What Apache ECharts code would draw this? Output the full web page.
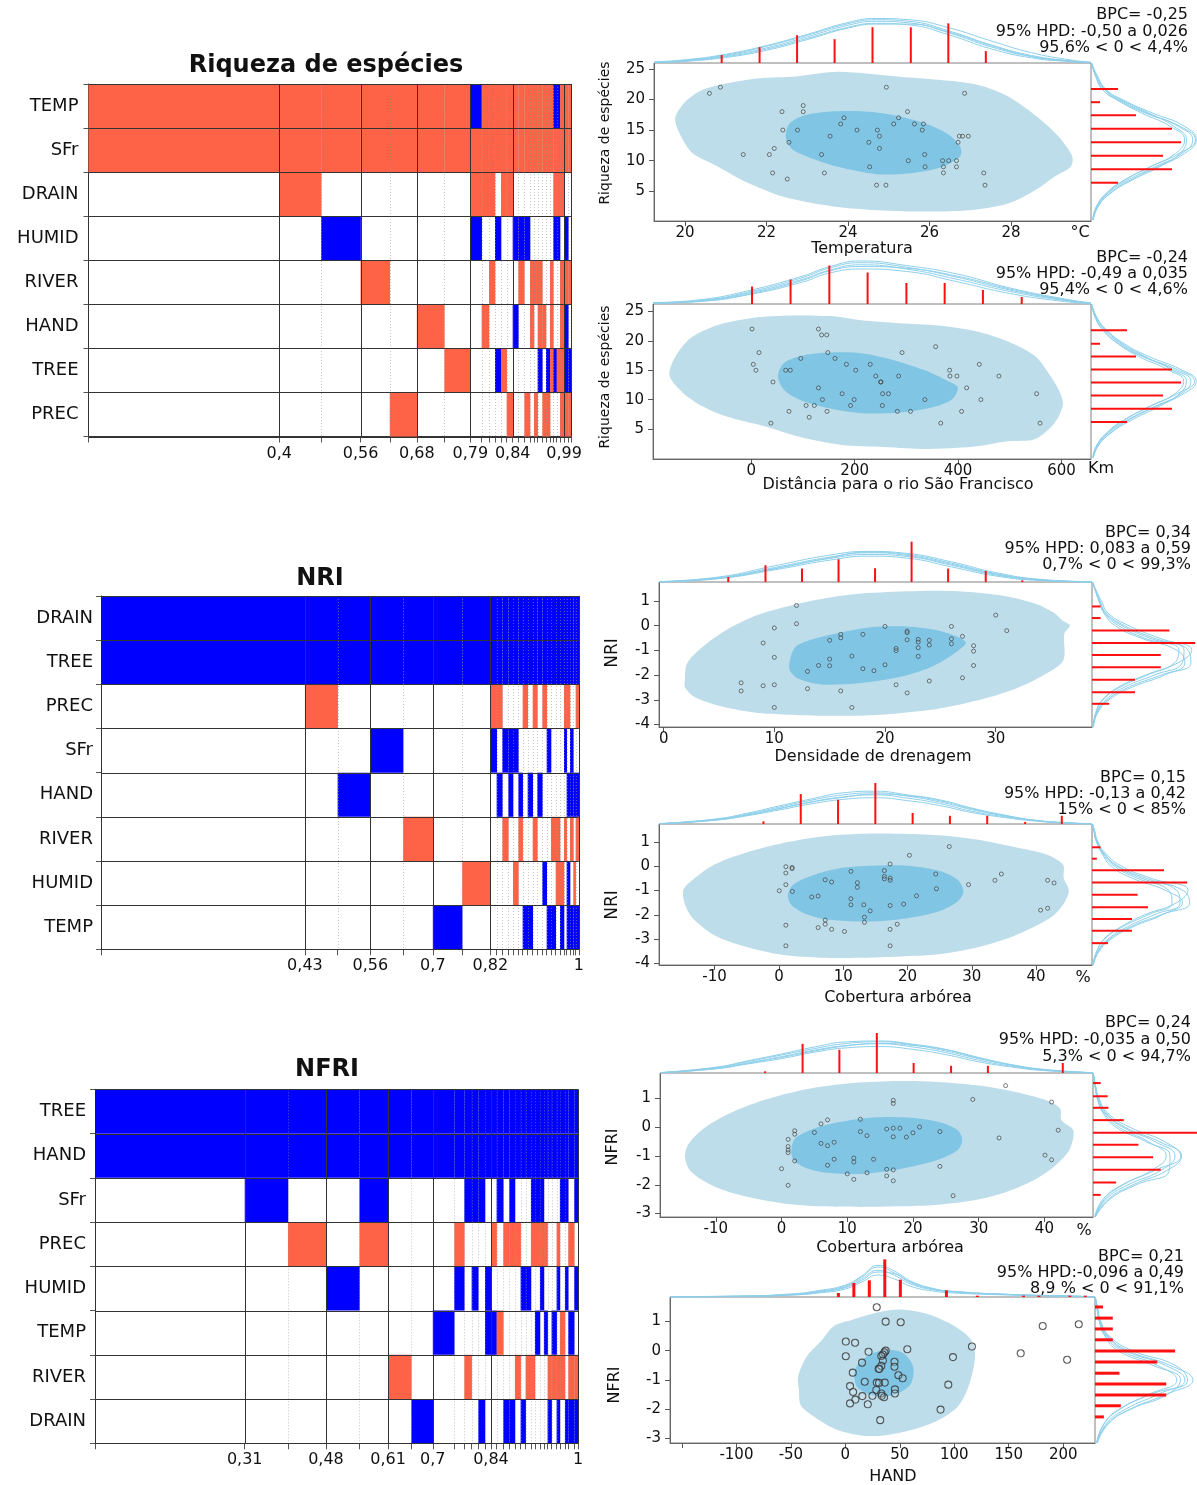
<!DOCTYPE html>
<html><head><meta charset="utf-8">
<script src="https://cdn.jsdelivr.net/npm/echarts@6/dist/echarts.min.js"></script>
<style>html,body{margin:0;padding:0;background:#fff}#c{width:1197px;height:1485px}</style>
</head><body><div id="c"></div><script>
// ================= DATA =================
// --- BMA image plots (cumulative posterior model probability; sign per variable: + / - / 0) ---
const riqTitle = 'Riqueza de espécies';
const riqVars = ['TEMP','SFr','DRAIN','HUMID','RIVER','HAND','TREE','PREC'];
const riqCum = [0.395,0.482,0.5635,0.624,0.680,0.737,0.791,0.8143,0.8295,0.8420,0.8544,0.8661,0.8786,0.8903,0.9027,0.9145,0.9227,0.9303,0.9400,0.9476,0.9559,0.9628,0.9697,0.9766,0.9849,0.9938,1.0];
const riqModels = ['++000000','+++00000','++0-0000','++00+000','++00000+','++000+00','++0000+0','-++-0000','+++00+00','+++0+000','++0-00-0','+++000+0','+++0000+','++0-0-00','++0-+000','++0-000+','++00++00','++00+00+','++00++-0','++000+0+','++0000-+','++00+++0','-++-00-0','-++-00+0','+++0++++','++0-+--+','++00+0-+'];
const riqTickAt = [0,2,4,6,12,24];
const riqTickLabels = ['0,4','0,56','0,68','0,79','0,84','0,99'];

const nriTitle = 'NRI';
const nriVars = ['DRAIN','TREE','PREC','SFr','HAND','RIVER','HUMID','TEMP'];
const nriCum = [0.4268,0.4953,0.5638,0.6323,0.6945,0.7559,0.8150,0.8281,0.8400,0.8525,0.8623,0.8735,0.8825,0.8930,0.9035,0.9132,0.9237,0.9328,0.9418,0.9516,0.9607,0.9690,0.9746,0.9816,0.9885,0.9934,1.0];
const nriModels = ['--000000','--+00000','--00-000','--0-0000','--000+00','--00000-','--0000+0','--+-0000','--+0-000','--0-0+00','--0--000','--0-00+0','--00-+00','--+0000-','--00-00-','--+00+00','--00-000','--+000-0','--0-000-','--000+0-','--000++0','--0000+-','--+-0+00','--+0-0--','--0--+0-','--00-0+-','--+0-+0-'];
const nriTickAt = [0,2,4,6,26];
const nriTickLabels = ['0,43','0,56','0,7','0,82','1'];

const nfriTitle = 'NFRI';
const nfriVars = ['TREE','HAND','SFr','PREC','HUMID','TEMP','RIVER','DRAIN'];
const nfriCum = [0.310,0.3995,0.4782,0.5475,0.6067,0.655,0.6994,0.7438,0.7646,0.7798,0.7936,0.8074,0.8198,0.8315,0.8453,0.8577,0.8694,0.8812,0.8915,0.9025,0.9108,0.9212,0.9294,0.9370,0.9453,0.9557,0.9625,0.9729,0.9798,0.9922,1.0];
const nfriModels = ['--000000','---00000','--0+0000','--00-000','---+0000','--0000+0','--00000-','--000-00','--0+-000','---000+0','---0-000','---0000-','--00--00','--0+0-00','---00+00','--0+000-','---+000-','--0+00+0','--00-00-','--00-0+0','---+00+0','---+0-00','---+-000','--0+0-00','--0000+-','--000-+0','--0+-0+-','---00++0','---0-00-','--0+0-+-','---0-0+-'];
const nfriTickAt = [0,2,4,6,12,30];
const nfriTickLabels = ['0,31','0,48','0,61','0,7','0,84','1'];

// --- Panel 1: Temperatura vs Riqueza ---
const p1XRange = [19.24, 29.96], p1YRange = [0.15, 25.95];
const p1XTicks = [20,22,24,26,28], p1YTicks = [5,10,15,20,25];
const p1Pts = [[20.6,21],[20.87,22],[21.43,11],[22.07,11],[22.19,12],[22.15,8],[22.51,7],[22.38,18],[22.4,15],[22.55,13],[22.76,15],[22.9,18],[22.9,19],[23.35,11],[23.42,8],[23.56,14],[23.82,16],[23.9,17],[24.22,15],[24.51,13],[24.53,9],[24.72,15],[24.77,14],[24.77,12],[24.7,6],[24.93,6],[24.94,22],[25.12,16],[25.24,17],[25.46,18],[25.48,10],[25.63,16],[25.82,15],[25.85,16],[25.88,11],[25.89,9],[26.32,10],[26.34,9],[26.34,8],[26.47,10],[26.66,10],[26.66,9],[26.7,13],[26.73,14],[26.81,14],[26.95,14],[26.86,21],[27.33,8],[27.36,6]];
const p1Outer = [[19.76,16.9],[20.05,19.9],[20.52,21.8],[21.76,23.4],[22.61,23.7],[23.66,24.5],[24.51,24.2],[25.27,23.7],[26.22,23.2],[27.17,22.4],[27.93,20.5],[28.69,16.9],[29.17,13.9],[29.5,10.7],[29.46,9.0],[29.07,7.4],[28.6,5.2],[27.93,3.0],[26.98,1.9],[25.75,1.7],[24.61,1.95],[23.56,2.6],[22.42,4.1],[21.47,6.6],[20.81,9.0],[20.19,11.2],[19.95,13.4]];
const p1Inner = [[22.47,13.9],[22.57,16.1],[22.99,17.5],[23.85,18.1],[24.8,17.8],[25.75,16.4],[26.41,14.5],[26.75,12.3],[26.75,10.7],[26.22,8.8],[25.46,7.9],[24.7,7.8],[23.75,9.0],[22.99,10.7],[22.61,12.0]];
const p1TopX = [20.9,21.83,22.75,23.67,24.6,25.54,26.46,27.38];
const p1TopV = [2,4,7,6,9,9,10,3];
const p1TopCurveX = [19.24,20,21,22,23,24,24.7,25.5,26.5,27.5,28.5,29.5,29.96];
const p1TopCurves = [
 [0.1,0.5,1.6,3.5,6.2,9.0,10.0,9.6,7.0,3.6,1.3,0.3,0.1],
 [0.2,0.6,1.8,3.8,6.6,9.5,10.5,10.1,7.5,4.1,1.6,0.4,0.1],
 [0.2,0.7,2.0,4.2,7.0,9.9,10.9,10.5,8.0,4.6,1.9,0.5,0.2],
 [0.3,0.8,2.2,4.4,7.2,10.2,11.2,10.9,8.8,5.6,2.6,0.7,0.2],
 [0.1,0.4,1.4,3.2,5.9,8.8,9.8,9.8,7.7,4.4,1.7,0.4,0.1]];
const p1RightY = [21.7,19.55,17.4,15.2,13.0,10.8,8.6,6.4];
const p1RightV = [3,1,5,9,10,8,9,3];
const p1RightCurveY = [25.95,24,21.6,19.9,17.8,15.6,13.4,11.2,9.0,6.85,4.7,2.5,0.3];
const p1RightCurves = [
 [0.05,0.5,1.3,2.9,5.6,8.8,10.4,9.4,6.6,3.7,1.7,0.6,0.2],
 [0.06,0.56,1.5,3.2,6.2,9.7,11.3,10.1,7.1,4.1,1.9,0.67,0.22],
 [0.08,0.65,1.7,3.6,6.8,10.4,11.7,10.4,7.4,4.4,2.1,0.75,0.25],
 [0.05,0.45,1.3,3.0,6.0,9.9,11.6,9.8,6.6,3.8,1.8,0.6,0.2],
 [0.07,0.6,1.6,3.4,6.4,9.2,10.6,9.9,7.6,4.6,2.2,0.8,0.25]];
const p1Texts = {x:'Temperatura', y:'Riqueza de espécies', unit:'°C', notes:['BPC= -0,25','95% HPD: -0,50 a 0,026','95,6% < 0 < 4,4%']};

// --- Panel 2: Distância para o rio São Francisco vs Riqueza ---
const p2XRange = [-190, 657], p2YRange = [-0.1, 26.26];
const p2XTicks = [0,200,400,600], p2YTicks = [5,10,15,20,25];
const p2Pts = [[1.5,22],[4,16],[9,15],[15,18],[42,13],[38,6],[66.5,15],[75.5,15],[73,8],[95.7,17],[106,9],[112,7],[122,9],[130,22],[130,12],[136,21],[146,21],[137.6,10],[148,18],[146.5,8],[162,17],[175.7,11],[184,16],[192,9],[199,10],[202,15],[230,16],[240.8,14],[251,13],[250,13],[254,11],[253.5,9],[265.4,11],[282.6,8],[285,14],[291.6,18],[308,8],[335.7,10],[356.6,19],[366.4,6],[383.6,15],[384.3,14],[397.8,14],[406.7,8],[416.5,12],[441,16],[444,10],[479,14],[551.8,11],[558.5,6]];
const p2Outer = [[-157.8,14],[-150,16.8],[-116.6,20.5],[-64.3,22.7],[3,23.9],[77.8,24.3],[152.5,24.2],[212.3,23.5],[287,23],[362,22.6],[436.7,21.6],[496.5,19.9],[548.8,17.4],[578.7,14],[597.4,11.1],[602.6,9.1],[586.2,6.0],[548.8,3.3],[496.5,2.9],[436.7,2.05],[399.3,1.8],[339.5,1.6],[257.2,1.95],[175,2.3],[100,3.5],[25.4,5.45],[-49.3,7.15],[-94.2,8.85],[-131.6,11.1]];
const p2Inner = [[51.6,14],[62.8,16.2],[100.2,17.5],[152.5,18.0],[212.3,17.9],[272.2,16.8],[332,15.1],[376.8,13.3],[399.3,12.1],[388,10],[347,8.6],[287,7.8],[212.3,7.7],[145,8.6],[92.7,10],[62.8,11.7]];
const p2TopX = [1.5,76,151,225,300,374,448,523];
const p2TopV = [5,7,11,9,6,6,4,2];
const p2TopCurveX = [-190,-100,0,100,150,212,300,400,500,600,657];
const p2TopCurves = [
 [0.2,0.7,2.8,6.3,8.8,10.0,9.3,6.3,3.0,0.8,0.1],
 [0.3,0.9,3.3,7.1,9.6,11.2,10.0,7.0,3.6,1.1,0.2],
 [0.35,1.0,3.6,7.6,10.2,11.8,10.5,7.6,4.0,1.3,0.25],
 [0.4,1.2,4.0,8.0,10.6,12.3,11.0,8.5,4.6,1.6,0.3],
 [0.25,0.8,3.0,6.8,9.4,10.7,10.2,7.9,4.3,1.4,0.2]];
const p2RightY = [21.8,19.5,17.35,15.1,12.9,10.7,8.45,6.2];
const p2RightV = [4,1,5,9,10,8,9,4];
const p2RightCurveY = [26.25,24,21.9,19.6,17.35,15.1,13.1,11.1,8.85,6.6,4.3,2.1,0.1];
const p2RightCurves = [
 [0.05,0.5,1.3,2.9,5.3,8.5,10.3,9.4,6.6,3.7,1.7,0.6,0.2],
 [0.06,0.56,1.5,3.2,5.8,9.2,11.1,10.1,7.1,4.1,1.9,0.67,0.22],
 [0.08,0.65,1.7,3.6,6.4,10.0,11.7,10.4,7.3,4.3,2.1,0.75,0.25],
 [0.05,0.45,1.3,3.0,5.7,9.6,11.5,9.7,6.5,3.8,1.8,0.6,0.2],
 [0.07,0.6,1.6,3.4,6.0,8.9,10.6,9.9,7.6,4.6,2.2,0.8,0.25]];
const p2Texts = {x:'Distância para o rio São Francisco', y:'Riqueza de espécies', unit:'Km', notes:['BPC= -0,24','95% HPD: -0,49 a 0,035','95,4% < 0 < 4,6%']};

// --- Panel 3: Densidade de drenagem vs NRI ---
const p3XRange = [-0.42, 38.7], p3YRange = [-4.1, 1.77];
const p3XTicks = [0,10,20,30], p3YTicks = [-4,-3,-2,-1,0,1];
const p3Pts = [[12.0,0.82],[10.0,-0.09],[12.0,0.08],[8.99,-0.70],[10.0,-1.28],[7.0,-2.31],[7.0,-2.64],[8.99,-2.43],[10.0,-2.39],[10.0,-3.31],[13.0,-1.85],[13.0,-2.55],[14.0,-1.61],[15.0,-0.59],[15.0,-1.35],[15.0,-1.62],[16.0,-0.35],[16.0,-0.49],[16.0,-2.64],[17.0,-1.23],[17.0,-3.31],[18.0,-0.35],[18.0,-1.74],[19.0,-1.82],[20.0,-0.03],[20.0,-1.58],[21.0,-0.92],[21.0,-1.01],[21.0,-2.39],[22.0,-0.22],[22.0,-0.28],[22.0,-0.57],[22.0,-2.72],[23.0,-0.55],[23.0,-0.66],[23.0,-0.89],[23.0,-1.24],[24.0,-0.59],[24.0,-0.78],[24.0,-2.24],[26.0,-0.03],[26.0,-0.53],[26.0,-0.73],[27.0,-0.43],[27.0,-2.11],[28.0,-0.81],[28.0,-1.03],[28.0,-1.61],[30.0,0.43],[31.0,-0.2]];
const p3Outer = [[1.92,-2.22],[2.1,-1.54],[3.5,-0.86],[5.6,-0.19],[8.4,0.42],[11.5,0.82],[15.0,1.14],[18.5,1.32],[23.1,1.41],[26.9,1.39],[30.4,1.23],[33.6,0.89],[35.3,0.51],[36.0,0.22],[36.7,0.01],[36.2,-0.32],[36.1,-1.41],[34.3,-2.01],[31.8,-2.55],[28.3,-3.03],[24.8,-3.36],[21.3,-3.54],[17.8,-3.64],[14.3,-3.64],[10.8,-3.59],[8.0,-3.5],[4.9,-3.23],[2.8,-2.89],[1.92,-2.49]];
const p3Inner = [[11.4,-1.41],[11.9,-0.86],[13.6,-0.53],[16.1,-0.26],[18.9,-0.05],[22.0,-0.03],[24.8,-0.19],[26.6,-0.46],[27.3,-0.70],[26.2,-1.14],[24.1,-1.68],[21.3,-2.08],[17.8,-2.32],[14.3,-2.38],[12.2,-2.15],[11.4,-1.81]];
const p3TopX = [5.84,9.2,12.5,15.8,19.1,22.4,25.7,29.1,32.4];
const p3TopV = [1.5,5,4,6.75,4.1,12,4,3.3,0.5];
const p3TopCurveX = [-0.42,5,10,15,18.5,22,26,30,34,38.7];
const p3TopCurves = [
 [0.06,1.0,3.6,6.5,7.7,7.1,4.5,1.8,0.45,0.03],
 [0.08,1.2,4.0,7.0,8.2,7.6,5.0,2.1,0.55,0.05],
 [0.1,1.3,4.3,7.4,8.7,7.9,5.3,2.3,0.6,0.05],
 [0.12,1.5,4.8,8.0,9.1,8.5,6.0,2.8,0.8,0.1],
 [0.08,1.1,3.9,7.2,8.9,8.2,5.6,2.5,0.7,0.06]];
const p3RightY = [0.78,0.31,-0.19,-0.70,-1.19,-1.68,-2.19,-2.69,-3.16];
const p3RightV = [1,1,9,12,8,8,5,5,2];
const p3RightCurveY = [1.77,1.5,1.0,0.5,0,-0.5,-1.0,-1.5,-2.0,-2.5,-3.0,-3.5,-4.1];
const p3RightCurves = [
 [0.05,0.3,0.8,1.4,2.7,5.7,9.9,10.8,8.4,4.6,2.0,0.7,0.15],
 [0.06,0.35,0.93,1.6,3.5,6.7,10.7,10.5,7.2,3.7,1.6,0.58,0.12],
 [0.07,0.4,1.1,1.9,4.3,7.8,11.6,10.0,6.2,3.0,1.2,0.45,0.1],
 [0.06,0.33,0.9,1.7,3.8,7.2,11.2,11.5,8.0,4.2,1.8,0.62,0.13],
 [0.05,0.32,0.85,1.5,3.1,6.1,10.1,9.6,6.4,3.2,1.3,0.5,0.1]];
const p3Texts = {x:'Densidade de drenagem', y:'NRI', unit:'', notes:['BPC= 0,34','95% HPD: 0,083 a 0,59','0,7% < 0 < 99,3%']};

// --- Panel 4: Cobertura arbórea vs NRI ---
const p4XRange = [-18.65, 48.7], p4YRange = [-4.07, 1.74];
const p4XTicks = [-10,0,10,20,30,40], p4YTicks = [-4,-3,-2,-1,0,1];
const p4Pts = [[26.5,0.81],[20.3,0.45],[17.3,0.09],[1.08,-0.02],[2.05,-0.05],[2.05,-0.1],[1.08,-0.28],[11.2,-0.21],[16.4,-0.18],[16.4,-0.42],[16.4,-0.52],[17.3,-0.49],[17.3,-0.58],[7.2,-0.56],[8.2,-0.65],[12.2,-0.68],[12.2,-0.87],[24.4,-0.32],[24.5,-0.93],[29.5,-0.76],[33.6,-0.58],[34.6,-0.32],[41.8,-0.58],[42.8,-0.69],[0.06,-1.01],[1.08,-0.76],[2.1,-1.04],[5.1,-1.27],[6.1,-1.23],[11.2,-1.34],[11.2,-1.59],[13.2,-1.59],[14.2,-1.84],[17.3,-1.62],[19.4,-1.56],[21.4,-1.22],[13.3,-2.1],[13.3,-2.31],[7.2,-2.22],[7.2,-2.39],[1.08,-2.43],[6.1,-2.53],[8.2,-2.6],[10.2,-2.69],[17.3,-2.6],[18.4,-2.39],[1.08,-3.28],[17.3,-3.28],[40.7,-1.81],[41.8,-1.73]];
const p4Outer = [[-14.9,-1.01],[-14.0,-0.69],[-10.1,0.06],[-5.3,0.55],[0.7,0.96],[6.7,1.23],[12.8,1.34],[18.8,1.34],[24.8,1.28],[30.8,1.1],[36.8,0.78],[41.6,0.48],[44.2,0.06],[44.3,-0.49],[45.1,-1.01],[44.2,-1.59],[42.5,-2.07],[39.8,-2.48],[35.6,-2.97],[30.8,-3.35],[24.8,-3.63],[18.8,-3.72],[12.8,-3.77],[6.7,-3.77],[0.7,-3.66],[-5.3,-3.31],[-10.1,-2.83],[-13.4,-2.14],[-14.6,-1.59]];
const p4Inner = [[1.4,-1.18],[2.2,-0.76],[5.5,-0.35],[9.7,-0.07],[14.6,0.02],[20.0,0.02],[24.8,-0.18],[27.8,-0.56],[28.7,-1.04],[27.8,-1.45],[24.8,-1.87],[20.0,-2.14],[14.0,-2.28],[7.9,-2.21],[4.3,-1.98],[1.9,-1.59]];
const p4TopX = [-2.4,3.4,9.2,15.0,20.8,26.6,32.4,38.3,44.0];
const p4TopV = [0.66,7.3,5.9,10,2.7,2,2,0.5,2];
const p4TopCurveX = [-18.6,-10,-5,0,5,10,15,20,25,30,35,40,45,48.7];
const p4TopCurves = [
 [0.05,0.9,2.0,3.4,4.9,6.0,6.4,5.7,4.5,2.8,1.6,0.7,0.2,0.04],
 [0.07,1.0,2.2,3.8,5.4,6.6,7.1,6.3,5.0,3.1,1.8,0.8,0.24,0.05],
 [0.08,1.1,2.4,4.1,5.8,7.1,7.6,6.8,5.4,3.5,2.0,0.85,0.26,0.06],
 [0.09,1.2,2.6,4.4,6.1,7.6,8.0,7.1,5.9,3.9,2.2,0.9,0.3,0.07],
 [0.06,0.95,2.1,3.7,5.3,6.5,7.3,6.9,5.7,3.7,2.1,0.85,0.25,0.05]];
const p4RightY = [0.78,0.31,-0.17,-0.67,-1.18,-1.69,-2.17,-2.66,-3.17];
const p4RightV = [1.06,0.6,9,11.9,5.7,7,5,5,2];
const p4RightCurveY = [1.74,1.5,1.0,0.5,0,-0.5,-1.0,-1.5,-2.0,-2.5,-3.0,-3.5,-4.07];
const p4RightCurves = [
 [0.05,0.2,0.55,1.3,2.4,5.1,9.2,11.3,8.8,5.1,2.4,0.9,0.15],
 [0.06,0.25,0.63,1.5,3.1,6.25,10.6,11.0,7.75,4.4,2.0,0.75,0.12],
 [0.07,0.3,0.75,1.8,3.7,7.4,12.0,10.6,6.6,3.6,1.5,0.6,0.1],
 [0.06,0.27,0.7,1.6,3.3,6.8,11.4,12.2,8.6,4.8,2.2,0.8,0.13],
 [0.05,0.22,0.6,1.4,2.8,5.7,9.6,10.0,7.0,3.8,1.6,0.6,0.1]];
const p4Texts = {x:'Cobertura arbórea', y:'NRI', unit:'%', notes:['BPC= 0,15','95% HPD: -0,13 a 0,42','15% < 0 < 85%']};

// --- Panel 5: Cobertura arbórea vs NFRI ---
const p5XRange = [-18.5, 47.4], p5YRange = [-3.12, 1.89];
const p5XTicks = [-10,0,10,20,30,40], p5YTicks = [-3,-2,-1,0,1];
const p5Pts = [[34.1,1.45],[29.1,0.97],[17.0,0.94],[17.0,0.83],[41.1,0.88],[12.0,0.28],[7.0,0.26],[6.0,0.12],[2.0,-0.12],[2.0,-0.24],[5.0,-0.18],[21.0,0.01],[16.0,-0.06],[17.0,-0.03],[18.0,-0.03],[20.0,-0.19],[12.0,-0.15],[24.1,-0.15],[13.0,-0.29],[17.0,-0.33],[19.0,-0.34],[33.1,-0.37],[42.1,-0.1],[1.0,-0.42],[6.0,-0.56],[8.0,-0.52],[7.0,-0.64],[1.0,-0.67],[1.0,-0.79],[1.0,-0.88],[2.0,-1.17],[8.0,-1.11],[11.0,-1.07],[11.0,-1.21],[14.0,-1.11],[7.0,-1.32],[0.0,-1.44],[16.0,-1.46],[17.0,-1.48],[10.0,-1.62],[13.0,-1.58],[16.0,-1.69],[11.0,-1.81],[17.0,-1.86],[1.0,-2.02],[24.1,-1.36],[40.1,-0.97],[41.1,-1.13],[26.1,-2.38]];
const p5Outer = [[-14.7,-1.02],[-14.1,-0.56],[-11.5,0.02],[-6.8,0.6],[-1.5,1.03],[4.4,1.35],[10.9,1.54],[17.9,1.61],[23.8,1.58],[29.7,1.46],[35.6,1.23],[40.3,0.94],[42.4,0.65],[42.6,0.25],[44.4,-0.10],[43.8,-0.79],[41.5,-1.36],[38.5,-1.82],[34.4,-2.23],[29.7,-2.52],[23.8,-2.69],[17.9,-2.75],[12.1,-2.77],[6.2,-2.75],[0.3,-2.65],[-5.6,-2.4],[-10.3,-2.05],[-13.8,-1.54]];
const p5Inner = [[1.5,-0.79],[2.1,-0.38],[5.0,-0.04],[9.1,0.19],[13.8,0.34],[19.1,0.34],[23.8,0.19],[26.8,-0.10],[27.5,-0.44],[26.8,-0.79],[23.8,-1.13],[17.9,-1.46],[12.1,-1.62],[7.4,-1.59],[3.8,-1.42],[1.8,-1.13]];
const p5TopX = [-2.5,3.2,8.8,14.5,20.1,25.8,31.4,42.8];
const p5TopV = [0.42,7.3,5.8,10,2.5,1.8,1.8,2.5];
const p5TopCurveX = [-18.5,-10,-5,0,5,10,15,20,25,30,35,40,47.4];
const p5TopCurves = [
 [0.06,1.05,2.3,3.6,5.2,6.3,6.6,5.9,4.6,2.8,1.5,0.6,0.04],
 [0.08,1.2,2.6,4.1,5.7,6.9,7.3,6.5,5.1,3.2,1.7,0.7,0.05],
 [0.09,1.35,2.9,4.5,6.1,7.4,7.8,7.0,5.5,3.6,1.95,0.8,0.06],
 [0.1,1.45,3.1,4.75,6.5,7.8,8.0,7.2,5.9,3.9,2.1,0.9,0.07],
 [0.07,1.1,2.5,3.9,5.5,6.8,7.4,6.9,5.8,3.7,2.0,0.8,0.05]];
const p5RightY = [1.54,1.08,0.68,0.25,-0.19,-0.61,-1.04,-1.48,-1.92,-2.35];
const p5RightV = [1,1.9,2,4,13.5,5.9,7.8,8.8,3,1];
const p5RightCurveY = [1.89,1.5,1.0,0.5,0,-0.5,-1.0,-1.5,-2.0,-2.5,-3.12];
const p5RightCurves = [
 [0.03,0.22,0.55,1.3,3.0,6.9,10.0,9.9,5.6,2.2,0.3],
 [0.04,0.26,0.65,1.56,3.9,8.05,10.65,8.8,4.55,1.7,0.26],
 [0.05,0.3,0.8,1.9,4.8,9.3,11.4,8.0,3.8,1.3,0.2],
 [0.04,0.28,0.7,1.7,4.2,8.6,11.5,9.6,5.2,2.0,0.28],
 [0.03,0.24,0.6,1.4,3.4,7.2,9.5,7.6,3.9,1.5,0.22]];
const p5Texts = {x:'Cobertura arbórea', y:'NFRI', unit:'%', notes:['BPC= 0,24','95% HPD: -0,035 a 0,50','5,3% < 0 < 94,7%']};

// --- Panel 6: HAND vs NFRI ---
const p6XRange = [-161, 229.2], p6YRange = [-3.15, 1.83];
const p6XTicks = [-100,-50,0,50,100,150,200], p6XMinorTicks = [-150], p6YTicks = [-3,-2,-1,0,1];
const p6Pts = [[28.8,1.48],[37,0.99],[50.8,0.97],[181.2,0.84],[214.3,0.9],[0.4,0.31],[8.9,0.27],[116.2,0.14],[21.3,-0.04],[37,0.0],[56.9,0.05],[35.9,-0.06],[34.5,-0.13],[33,-0.18],[161,-0.09],[0.4,-0.19],[98.8,-0.22],[203.6,-0.31],[15.3,-0.41],[34.5,-0.34],[45.1,-0.38],[33,-0.52],[45.1,-0.55],[30.6,-0.62],[31.2,-0.62],[6.8,-0.75],[48.7,-0.84],[52.6,-0.94],[17.8,-1.06],[28.8,-1.09],[30.9,-1.1],[36.2,-1.09],[94.5,-1.16],[4.3,-1.21],[7.1,-1.41],[28.4,-1.34],[45.5,-1.32],[45.5,-1.46],[15.6,-1.55],[24.9,-1.54],[33,-1.46],[35.5,-1.59],[33.4,-1.54],[9.2,-1.67],[4.3,-1.8],[20.6,-1.83],[87.4,-2.01],[32,-2.37]];
const p6Outer = [[-42.6,-1.34],[-43.4,-0.89],[-35.5,-0.2],[-21.3,0.37],[-10.7,0.83],[7.1,1.06],[28.4,1.29],[49.8,1.4],[71.1,1.29],[85.3,1.11],[103.1,0.77],[115.5,0.37],[119.1,-0.09],[117.3,-0.66],[111.9,-1.34],[103.1,-1.91],[85.3,-2.37],[60.4,-2.71],[35.5,-2.89],[14.2,-2.89],[-7.1,-2.71],[-28.4,-2.26],[-40.9,-1.86]];
const p6Inner = [[8.2,-0.77],[12.4,-0.43],[24.9,-0.09],[39.1,0.03],[53.3,-0.09],[62.2,-0.54],[60.4,-1.11],[49.8,-1.43],[35.5,-1.57],[21.3,-1.48],[10.7,-1.23]];
const p6TopX = [-6.4,7.8,22,36.2,50.5,92.8,121.2,163.5,177.7,206.1,220.3];
const p6TopV = [1.2,4.2,5,11.3,5.2,2,0.4,0.4,0.4,0.4,0.4];
const p6TopCurveX = [-161,-100,-50,-25,0,15,30,45,60,80,100,150,200,229];
const p6TopCurves = [
 [0.07,0.15,0.55,1.2,2.4,4.5,6.6,5.4,3.2,1.8,1.2,0.6,0.25,0.07],
 [0.09,0.2,0.7,1.5,3.0,5.5,8.0,6.5,3.9,2.2,1.5,0.7,0.3,0.09],
 [0.1,0.25,0.8,1.7,3.3,6.0,9.0,7.2,4.3,2.4,1.6,0.75,0.32,0.1],
 [0.11,0.28,0.9,1.9,3.6,6.3,9.5,7.8,4.8,2.6,1.7,0.8,0.35,0.1],
 [0.08,0.18,0.65,1.4,2.8,5.0,7.5,7.0,4.5,2.5,1.6,0.75,0.3,0.08]];
const p6RightY = [1.49,1.11,0.74,0.37,-0.01,-0.39,-0.77,-1.14,-1.51,-1.88,-2.26];
const p6RightV = [0.9,2,2,2,9,7,2.75,8,8,2.9,1];
const p6RightCurveY = [1.83,1.5,1.0,0.5,0,-0.5,-1.0,-1.5,-2.0,-2.5,-3.15];
const p6RightCurves = [
 [0.02,0.18,0.48,1.1,2.6,6.5,9.6,8.1,4.0,1.5,0.25],
 [0.03,0.22,0.56,1.35,3.4,7.9,10.1,7.0,3.4,1.24,0.22],
 [0.04,0.26,0.66,1.6,4.2,9.0,10.4,6.2,2.7,1.0,0.2],
 [0.03,0.24,0.6,1.45,3.7,8.4,11.0,7.9,3.9,1.4,0.24],
 [0.02,0.2,0.5,1.2,3.0,7.0,9.2,6.0,2.8,1.0,0.18]];
const p6Texts = {x:'HAND', y:'NFRI', unit:'', notes:['BPC= 0,21','95% HPD:-0,096 a 0,49','8,9 % < 0 < 91,1%']};

// ================= LAYOUT & STYLE =================
const FONT = 'DejaVu Sans';
const RED = '#FF6347', BLUE = '#0000FF', SPIKE = '#FF1010';
const OUTER = '#BEDDEA', INNER = '#80C5E4', CURVE = '#8DCFEA';
const bmaBoxes = {
  riq:  {x:88.5, y:84,    w:482.8, h:352.5, labelMargin:10, title:{x:326, y:66}},
  nri:  {x:101,  y:596,   w:477.8, h:353.3, labelMargin:8,  title:{x:320, y:579}},
  nfri: {x:95,   y:1089.3,w:483,   h:354,   labelMargin:9,  title:{x:327, y:1070}}
};
const pBoxes = {
  p1:{x:654,y:63,w:437,h:158, topH:46, topUnit:3.97, rightUnit:9,   spikeW:2, sym:4,
      yT:{x:605,y:133,s:14}, xT:{x:862,y:249}, uT:{x:1080,y:233}, nX:1188, nY:[15,31.5,48]},
  p2:{x:653,y:304,w:438,h:155, topH:46, topUnit:3.5,  rightUnit:9,   spikeW:2, sym:4,
      yT:{x:605,y:377,s:14}, xT:{x:898,y:485}, uT:{x:1101,y:469}, nX:1188, nY:[258,273.5,289.5]},
  p3:{x:659,y:582,w:433,h:145, topH:46, topUnit:3.36, rightUnit:8.6, spikeW:2, sym:4,
      yT:{x:613,y:653,s:17}, xT:{x:873,y:757}, uT:{x:0,y:0}, nX:1191, nY:[533,548.5,565]},
  p4:{x:659,y:824,w:433,h:141, topH:46, topUnit:4.1,  rightUnit:8,   spikeW:2, sym:4,
      yT:{x:613,y:905,s:17}, xT:{x:898,y:998}, uT:{x:1083,y:978}, nX:1186, nY:[778,794,810]},
  p5:{x:660,y:1073,w:433,h:144, topH:46, topUnit:4,   rightUnit:7.7, spikeW:2, sym:4,
      yT:{x:613,y:1147,s:16}, xT:{x:890,y:1248}, uT:{x:1084,y:1231}, nX:1191, nY:[1023,1039.5,1057]},
  p6:{x:670,y:1297,w:425,h:146, topH:46, topUnit:3.33, rightUnit:8.9, spikeW:3, sym:7,
      yT:{x:615,y:1385,s:16}, xT:{x:893,y:1477}, uT:{x:0,y:0}, nX:1184, nY:[1257,1273,1289]}
};
const CHART_W = 1197;

// ================= BUILD =================
const option = {animation:false, textStyle:{fontFamily:FONT}, grid:[], xAxis:[], yAxis:[], series:[], graphic:{elements:[]}};
function txt(x, y, text, size, o) {
  o = o || {};
  option.graphic.elements.push({type:'text', x, y, z:100, rotation:o.rot||0, silent:true,
    style:{text, fill:'#111', font:(o.bold?'bold ':'') + size + 'px "' + FONT + '"',
      align:o.align||'center', verticalAlign:'middle', textAlign:o.align||'center', textVerticalAlign:'middle'}});
}

function addBMA(title, vars, cum, models, tickAt, tickLabels, B) {
  const g = option.grid.length;
  option.grid.push({left:B.x, top:B.y, width:B.w, height:B.h, show:false});
  const labelVals = tickAt.map(i => cum[i]);
  const labelMap = {};
  labelVals.forEach((v, k) => { labelMap[v.toFixed(5)] = tickLabels[k]; });
  option.xAxis.push({type:'value', gridIndex:g, min:0, max:1, splitLine:{show:false},
    axisLine:{show:true, onZero:false, lineStyle:{color:'#333', width:1}},
    axisTick:{show:true, customValues:[0].concat(cum), length:6, lineStyle:{color:'#555'}},
    axisLabel:{show:true, customValues:labelVals, formatter:v => labelMap[Number(v).toFixed(5)] || '',
      fontSize:16, color:'#111', margin:9, fontFamily:FONT}});
  option.yAxis.push({type:'category', gridIndex:g, data:vars, inverse:true, splitLine:{show:false},
    axisLine:{show:true, lineStyle:{color:'#333'}}, axisTick:{show:true, length:5, lineStyle:{color:'#555'}},
    axisLabel:{fontSize:18, color:'#111', margin:B.labelMargin, fontFamily:FONT}});
  const rects = [];
  let start = 0;
  models.forEach((m, i) => {
    const end = cum[i];
    for (let r = 0; r < vars.length; r++) {
      const c = m[r];
      if (c !== '0') rects.push([start, end, r, c === '+' ? 1 : -1]);
    }
    start = end;
  });
  option.series.push({type:'custom', xAxisIndex:g, yAxisIndex:g, silent:true, z:2, clip:false,
    encode:{x:[0,1], y:2}, data:rects,
    renderItem:(params, api) => {
      const p0 = api.coord([api.value(0), api.value(2)]);
      const p1 = api.coord([api.value(1), api.value(2)]);
      const h = Math.abs(api.size([0, 1])[1]);
      return {type:'rect', shape:{x:p0[0], y:p0[1] - h/2, width:p1[0] - p0[0] + 0.3, height:h},
        style:{fill: api.value(3) > 0 ? RED : BLUE}};
    }});
  // vertical model boundaries
  const vData = cum.map((v, i) => [v, tickAt.indexOf(i) >= 0 || i === cum.length - 1 ? 1 : 0]);
  option.series.push({type:'custom', xAxisIndex:g, yAxisIndex:g, silent:true, z:3, clip:false,
    encode:{x:0}, data:vData,
    renderItem:(params, api) => {
      const cs = params.coordSys;
      const x = Math.round(api.coord([api.value(0), 0])[0]) + 0.5;
      const major = api.value(1) === 1;
      return {type:'line', shape:{x1:x, y1:cs.y, x2:x, y2:cs.y + cs.height},
        style:{stroke: major ? '#333' : 'rgba(150,150,150,0.7)', lineWidth: major ? 1 : 0.8, lineDash: major ? null : [1, 2]}};
    }});
  // horizontal row separators
  const hData = vars.map((v, i) => [i]).concat([[vars.length]]);
  option.series.push({type:'custom', xAxisIndex:g, yAxisIndex:g, silent:true, z:3, clip:false,
    data:hData,
    renderItem:(params, api) => {
      const cs = params.coordSys;
      const y = Math.round(cs.y + api.value(0) * cs.height / vars.length) + 0.5;
      return {type:'line', shape:{x1:cs.x, y1:y, x2:cs.x + cs.width, y2:y}, style:{stroke:'#333', lineWidth:1}};
    }});
  txt(B.title.x, B.title.y, title, 24, {bold:true});
}

function polySeries(g, pts, color, z) {
  return {type:'custom', xAxisIndex:g, yAxisIndex:g, silent:true, z, clip:true, data:pts,
    renderItem:(params, api) => {
      if (params.dataIndex !== 0) return null;
      return {type:'polygon', shape:{points: pts.map(p => api.coord(p)), smooth:0.3}, style:{fill:color}};
    }};
}

function addPanel(P, B) {
  const axisTxt = {fontSize:15, color:'#111', fontFamily:FONT};
  const g = option.grid.length;
  option.grid.push({left:B.x, top:B.y, width:B.w, height:B.h, show:true, borderColor:'#808080', borderWidth:1, backgroundColor:'rgba(0,0,0,0)'});
  option.xAxis.push({type:'value', gridIndex:g, min:P.xr[0], max:P.xr[1], splitLine:{show:false},
    axisLine:{show:true, onZero:false, lineStyle:{color:'#666'}},
    axisTick:{show:true, customValues:(P.xMinor || []).concat(P.xt), length:5, lineStyle:{color:'#555'}},
    axisLabel:Object.assign({customValues:P.xt, margin:5, formatter:v => String(v)}, axisTxt)});
  option.yAxis.push({type:'value', gridIndex:g, min:P.yr[0], max:P.yr[1], splitLine:{show:false},
    axisLine:{show:true, onZero:false, lineStyle:{color:'#666'}},
    axisTick:{show:true, customValues:P.yt, length:5, lineStyle:{color:'#555'}},
    axisLabel:Object.assign({customValues:P.yt, margin:9, formatter:v => String(v)}, axisTxt)});
  option.series.push(polySeries(g, P.outer, OUTER, 1));
  option.series.push(polySeries(g, P.inner, INNER, 2));
  option.series.push({type:'scatter', xAxisIndex:g, yAxisIndex:g, silent:true, z:4, data:P.pts,
    symbol:'circle', symbolSize:B.sym,
    itemStyle:{color:'rgba(255,255,255,0.15)', borderColor:'#333', borderWidth:B.sym > 5 ? 1.1 : 0.8}});

  // top marginal
  const gt = option.grid.length;
  option.grid.push({left:B.x, top:B.y - B.topH, width:B.w, height:B.topH, show:false});
  option.xAxis.push({type:'value', gridIndex:gt, min:P.xr[0], max:P.xr[1], show:false});
  option.yAxis.push({type:'value', gridIndex:gt, min:0, max:B.topH / B.topUnit, show:false});
  P.topCurves.forEach(c => option.series.push({type:'line', xAxisIndex:gt, yAxisIndex:gt, silent:true, z:2,
    data:P.topCurveX.map((x, i) => [x, c[i]]), smooth:0.5, showSymbol:false, clip:false,
    lineStyle:{color:CURVE, width:1}}));
  option.series.push({type:'custom', xAxisIndex:gt, yAxisIndex:gt, silent:true, z:3, clip:false,
    data:P.topX.map((x, i) => [x, P.topV[i]]),
    renderItem:(params, api) => {
      const a = api.coord([api.value(0), 0]), b = api.coord([api.value(0), api.value(1)]);
      return {type:'line', shape:{x1:a[0], y1:a[1], x2:b[0], y2:b[1]}, style:{stroke:SPIKE, lineWidth:B.spikeW}};
    }});

  // right marginal
  const gr = option.grid.length;
  const rw = CHART_W - (B.x + B.w);
  option.grid.push({left:B.x + B.w, top:B.y, width:rw, height:B.h, show:false});
  option.xAxis.push({type:'value', gridIndex:gr, min:0, max:rw / B.rightUnit, show:false});
  option.yAxis.push({type:'value', gridIndex:gr, min:P.yr[0], max:P.yr[1], show:false});
  P.rightCurves.forEach(c => option.series.push({type:'line', xAxisIndex:gr, yAxisIndex:gr, silent:true, z:2,
    data:P.rightCurveY.map((y, i) => [c[i], y]), smooth:0.5, showSymbol:false, clip:true,
    lineStyle:{color:CURVE, width:1}}));
  option.series.push({type:'custom', xAxisIndex:gr, yAxisIndex:gr, silent:true, z:3, clip:false,
    data:P.rightY.map((y, i) => [P.rightV[i], y]),
    renderItem:(params, api) => {
      const a = api.coord([0, api.value(1)]), b = api.coord([api.value(0), api.value(1)]);
      return {type:'line', shape:{x1:a[0], y1:a[1], x2:b[0], y2:b[1]}, style:{stroke:SPIKE, lineWidth:B.spikeW}};
    }});

  // texts
  txt(B.yT.x, B.yT.y, P.texts.y, B.yT.s, {rot:Math.PI / 2});
  txt(B.xT.x, B.xT.y, P.texts.x, 16);
  if (P.texts.unit) txt(B.uT.x, B.uT.y, P.texts.unit, 16);
  P.texts.notes.forEach((t, i) => txt(B.nX, B.nY[i], t, 16, {align:'right'}));
}

addBMA(riqTitle, riqVars, riqCum, riqModels, riqTickAt, riqTickLabels, bmaBoxes.riq);
addBMA(nriTitle, nriVars, nriCum, nriModels, nriTickAt, nriTickLabels, bmaBoxes.nri);
addBMA(nfriTitle, nfriVars, nfriCum, nfriModels, nfriTickAt, nfriTickLabels, bmaBoxes.nfri);

addPanel({xr:p1XRange, yr:p1YRange, xt:p1XTicks, yt:p1YTicks, pts:p1Pts, outer:p1Outer, inner:p1Inner,
  topX:p1TopX, topV:p1TopV, topCurveX:p1TopCurveX, topCurves:p1TopCurves,
  rightY:p1RightY, rightV:p1RightV, rightCurveY:p1RightCurveY, rightCurves:p1RightCurves, texts:p1Texts}, pBoxes.p1);
addPanel({xr:p2XRange, yr:p2YRange, xt:p2XTicks, yt:p2YTicks, pts:p2Pts, outer:p2Outer, inner:p2Inner,
  topX:p2TopX, topV:p2TopV, topCurveX:p2TopCurveX, topCurves:p2TopCurves,
  rightY:p2RightY, rightV:p2RightV, rightCurveY:p2RightCurveY, rightCurves:p2RightCurves, texts:p2Texts}, pBoxes.p2);
addPanel({xr:p3XRange, yr:p3YRange, xt:p3XTicks, yt:p3YTicks, pts:p3Pts, outer:p3Outer, inner:p3Inner,
  topX:p3TopX, topV:p3TopV, topCurveX:p3TopCurveX, topCurves:p3TopCurves,
  rightY:p3RightY, rightV:p3RightV, rightCurveY:p3RightCurveY, rightCurves:p3RightCurves, texts:p3Texts}, pBoxes.p3);
addPanel({xr:p4XRange, yr:p4YRange, xt:p4XTicks, yt:p4YTicks, pts:p4Pts, outer:p4Outer, inner:p4Inner,
  topX:p4TopX, topV:p4TopV, topCurveX:p4TopCurveX, topCurves:p4TopCurves,
  rightY:p4RightY, rightV:p4RightV, rightCurveY:p4RightCurveY, rightCurves:p4RightCurves, texts:p4Texts}, pBoxes.p4);
addPanel({xr:p5XRange, yr:p5YRange, xt:p5XTicks, yt:p5YTicks, pts:p5Pts, outer:p5Outer, inner:p5Inner,
  topX:p5TopX, topV:p5TopV, topCurveX:p5TopCurveX, topCurves:p5TopCurves,
  rightY:p5RightY, rightV:p5RightV, rightCurveY:p5RightCurveY, rightCurves:p5RightCurves, texts:p5Texts}, pBoxes.p5);
addPanel({xr:p6XRange, yr:p6YRange, xt:p6XTicks, xMinor:p6XMinorTicks, yt:p6YTicks, pts:p6Pts, outer:p6Outer, inner:p6Inner,
  topX:p6TopX, topV:p6TopV, topCurveX:p6TopCurveX, topCurves:p6TopCurves,
  rightY:p6RightY, rightV:p6RightV, rightCurveY:p6RightCurveY, rightCurves:p6RightCurves, texts:p6Texts}, pBoxes.p6);

const chart = echarts.init(document.getElementById('c'), null, {renderer:'canvas', width:1197, height:1485});
chart.setOption(option);
</script></body></html>
